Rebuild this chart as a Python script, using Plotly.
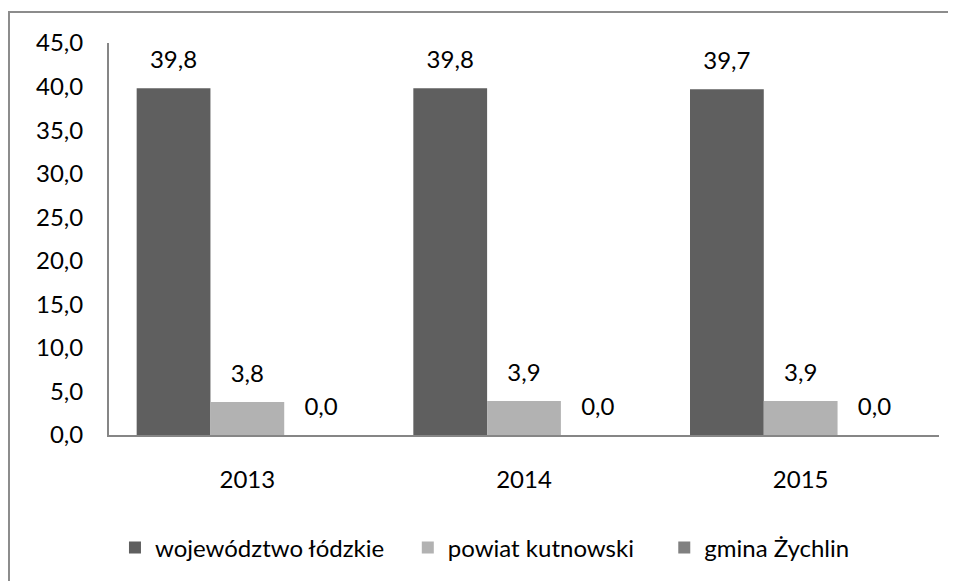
import plotly.graph_objects as go

years = ["2013", "2014", "2015"]
wojewodztwo = [39.8, 39.8, 39.7]
powiat = [3.8, 3.9, 3.9]
gmina = [0.0, 0.0, 0.0]

series_names = ["województwo łódzkie", "powiat kutnowski", "gmina Żychlin"]
colors = ["#5f5f5f", "#b2b2b2", "#808080"]
legend_ids = ["legend", "legend2", "legend3"]

font_family = "Lato, 'Open Sans', sans-serif"

fig = go.Figure()
for name, values, color, lg in zip(series_names, [wojewodztwo, powiat, gmina], colors, legend_ids):
    fig.add_trace(go.Bar(
        x=years,
        y=values,
        name=name,
        marker=dict(color=color, line=dict(width=0)),
        hoverinfo="name+y",
        legend=lg,
    ))

# value labels: transparent markers keep the text a bit above the bar tops
for name, values in zip(series_names, [wojewodztwo, powiat, gmina]):
    fig.add_trace(go.Scatter(
        x=years,
        y=values,
        mode="markers+text",
        marker=dict(size=21, opacity=0),
        texttemplate="%{y:.1f}",
        textposition="top center",
        textfont=dict(size=24, color="black"),
        cliponaxis=False,
        showlegend=False,
        hoverinfo="skip",
        name=name,
    ))

# one legend per entry so the entries sit where they do in the original
legend_style = dict(
    orientation="h",
    xanchor="left",
    y=-0.285,
    yanchor="middle",
    bgcolor="rgba(0,0,0,0)",
    font=dict(size=24),
)

fig.update_layout(
    width=948,
    height=573,
    margin=dict(l=101, r=17, t=35, b=145),
    separators=",.",
    plot_bgcolor="white",
    paper_bgcolor="white",
    font=dict(family=font_family, size=24, color="black"),
    barmode="group",
    bargap=0.2,
    bargroupgap=0,
    scattermode="group",
    scattergap=0.2,
    showlegend=True,
    legend=dict(x=0.0072, **legend_style),
    legend2=dict(x=0.360, **legend_style),
    legend3=dict(x=0.669, **legend_style),
    xaxis=dict(
        showline=True,
        linecolor="#868686",
        linewidth=2,
        showgrid=False,
        ticks="",
        ticklabelstandoff=22,
        automargin=False,
    ),
    yaxis=dict(
        range=[0, 45],
        dtick=5,
        tickformat=".1f",
        showline=True,
        linecolor="#868686",
        linewidth=2,
        showgrid=False,
        zeroline=False,
        ticks="",
        ticklabelstandoff=19,
        automargin=False,
    ),
)

# outer chart border (only top and left edges fall inside the picture)
fig.add_shape(
    type="rect", xref="paper", yref="paper",
    x0=-0.1205, x1=1.2, y0=-0.6, y1=1.0794,
    line=dict(color="#8c8c8c", width=2),
    fillcolor="rgba(0,0,0,0)",
    layer="below",
)

fig.write_html("out.html")
